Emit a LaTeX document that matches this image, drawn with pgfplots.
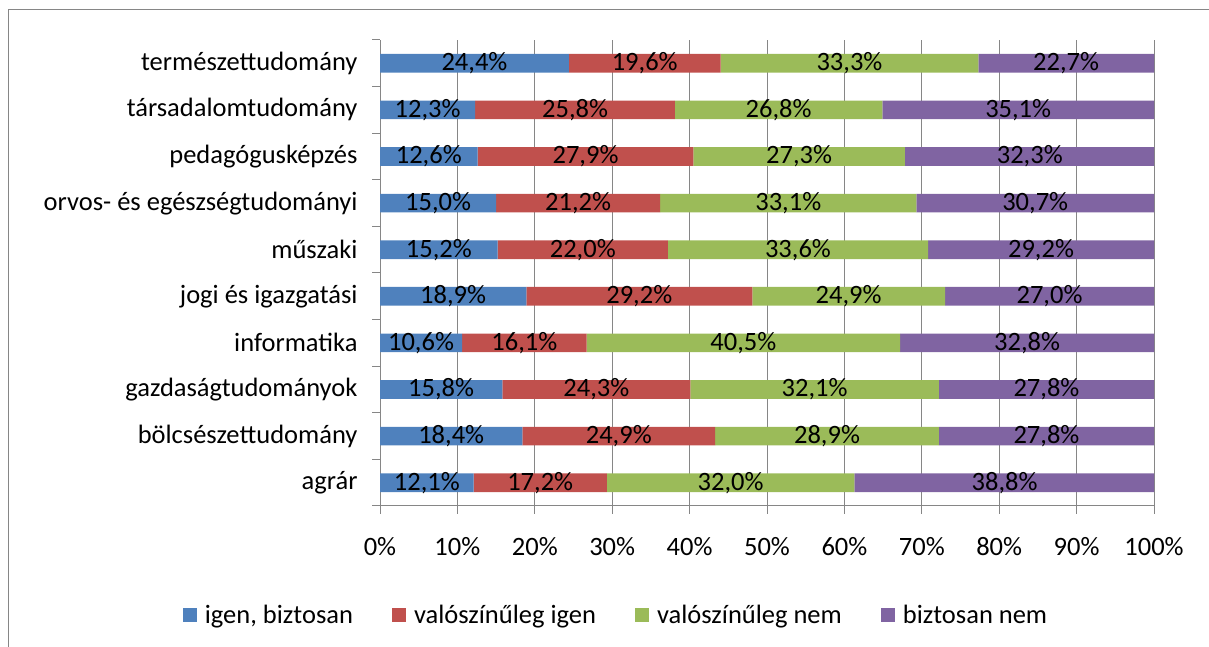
\documentclass[border=0pt]{standalone}
\usepackage{pgfplots}
\usepackage{pgfplotstable}
\pgfplotsset{compat=1.18}
\usepackage{fontspec}
\setmainfont{Carlito}
\definecolor{cA}{HTML}{4F81BD}
\definecolor{cB}{HTML}{C0504D}
\definecolor{cC}{HTML}{9BBB59}
\definecolor{cD}{HTML}{8064A2}
\definecolor{gl}{HTML}{868686}
\newcommand\F{\fontsize{26.5}{31}\selectfont}
\pgfplotstableread{
y a b c d
0 12.1 17.2 32.0 38.8
1 18.4 24.9 28.9 27.8
2 15.8 24.3 32.1 27.8
3 10.6 16.1 40.5 32.8
4 18.9 29.2 24.9 27.0
5 15.2 22.0 33.6 29.2
6 15.0 21.2 33.1 30.7
7 12.6 27.9 27.3 32.3
8 12.3 25.8 26.8 35.1
9 24.4 19.6 33.3 22.7
}\data
\pgfplotsset{
  base/.style={
    at={(380pt,141pt)}, anchor=south west,
    width=774pt, height=466pt, scale only axis,
    xmin=0, xmax=100, ymin=-0.5, ymax=9.5,
  },
  lbl/.style={draw=none, mark=none, point meta=explicit,
    nodes near coords={\pgfmathprintnumber[fixed,fixed zerofill,precision=1,use comma,assume math mode=true]{\pgfplotspointmeta}\%},
    nodes near coords style={anchor=center, font=\F, text=black, inner sep=0pt}},
}
\begin{document}
\begin{tikzpicture}
\path[use as bounding box] (0,0) rectangle (1209pt,647pt);
\draw[gl, line width=1pt] (8pt,0) -- (8pt,637pt) -- (1209pt,637pt);
\begin{axis}[base,
  xbar stacked, bar width=0.4,
  axis x line*=bottom, axis y line*=left,
  axis line style={gl, line width=1pt},
  xtick={0,10,...,100},
  xticklabels={0\%,10\%,20\%,30\%,40\%,50\%,60\%,70\%,80\%,90\%,100\%},
  ytick={-0.5,0.5,...,9.5},
  yticklabels={},
  extra y ticks={0,...,9},
  extra y tick labels={agrár,bölcsészettudomány,gazdaságtudományok,informatika,jogi és igazgatási,műszaki,orvos- és egészségtudományi,pedagógusképzés,társadalomtudomány,természettudomány},
  extra y tick style={major tick length=0pt, tick style={draw=none}},
  tick label style={font=\F, text=black},
  xmajorgrids, major grid style={gl, line width=1pt},
  tick align=outside,
  major tick length=8pt,
  tick style={gl, line width=1pt},
  xticklabel style={yshift=-20pt},
  yticklabel style={anchor=east, xshift=-19pt},
  legend columns=4,
  legend style={at={(0.305,-0.234)}, anchor=center, draw=none, fill=none, font=\F,
    /tikz/every odd column/.append style={column sep=6pt},
    /tikz/every even column/.append style={column sep=37pt}},
  legend image code/.code={\fill[#1] (0pt,-7pt) rectangle (14pt,7pt);},
]
\addplot[fill=cA, draw=none] table[x=a, y=y] {\data};
\addplot[fill=cB, draw=none] table[x=b, y=y] {\data};
\addplot[fill=cC, draw=none] table[x=c, y=y] {\data};
\addplot[fill=cD, draw=none] table[x=d, y=y] {\data};
\legend{igen{,} biztosan, valószínűleg igen, valószínűleg nem, biztosan nem}
\end{axis}
\begin{axis}[base, hide axis, clip=false]
\addplot[lbl] table[x expr={\thisrow{a}/2}, y=y, meta=a] {\data};
\addplot[lbl] table[x expr={\thisrow{a}+\thisrow{b}/2}, y=y, meta=b] {\data};
\addplot[lbl] table[x expr={\thisrow{a}+\thisrow{b}+\thisrow{c}/2}, y=y, meta=c] {\data};
\addplot[lbl] table[x expr={\thisrow{a}+\thisrow{b}+\thisrow{c}+\thisrow{d}/2}, y=y, meta=d] {\data};
\end{axis}
\end{tikzpicture}
\end{document}
